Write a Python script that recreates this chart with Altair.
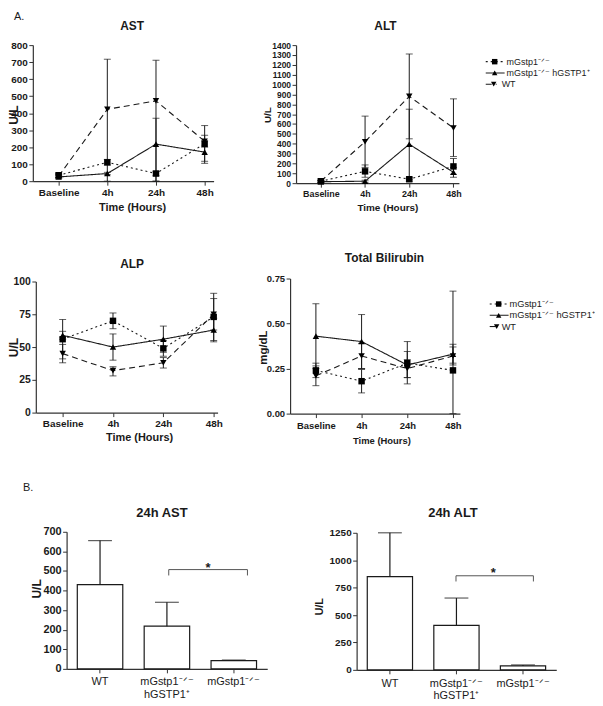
import json
import altair as alt
import pandas as pd

FONT = "Liberation Sans"
INK = "#1a1a1a"
W, H = 587, 688

times = ["Baseline", "4h", "24h", "48h"]
groups = ["ko", "tg", "wt"]
group_names = ["mGstp1⁻ᐟ⁻", "mGstp1⁻ᐟ⁻ hGSTP1⁺", "WT"]

# ---- AST (U/L) ----
ast_ko_mean = [35, 111, 45, 220]
ast_ko_lo = [22, 95, 32, 117]
ast_ko_hi = [48, 128, 58, 327]
ast_tg_mean = [25, 45, 218, 171]
ast_tg_lo = [15, 38, 0, 105]
ast_tg_hi = [35, 52, 370, 237]
ast_wt_mean = [30, 423, 472, 235]
ast_wt_lo = [20, 0, 0, 200]
ast_wt_hi = [40, 717, 711, 270]

# ---- ALT (U/L) ----
alt_ko_mean = [20, 120, 40, 170]
alt_ko_lo = [10, 60, 20, 90]
alt_ko_hi = [30, 185, 60, 250]
alt_tg_mean = [15, 20, 395, 110]
alt_tg_lo = [5, 10, 40, 60]
alt_tg_hi = [25, 30, 750, 160]
alt_wt_mean = [20, 420, 880, 560]
alt_wt_lo = [10, 160, 450, 270]
alt_wt_hi = [30, 680, 1310, 855]

# ---- ALP (U/L) ----
alp_ko_mean = [56, 70, 49, 73]
alp_ko_lo = [41, 64, 43, 55]
alp_ko_hi = [71, 76, 55, 91]
alp_tg_mean = [59, 50, 56, 63]
alp_tg_lo = [56, 40, 46, 54]
alp_tg_hi = [62, 60, 66, 72]
alp_wt_mean = [45, 32, 38, 75]
alp_wt_lo = [38, 28, 34, 63]
alp_wt_hi = [52, 35, 42, 87]

# ---- Total Bilirubin (mg/dL) ----
bil_ko_mean = [0.24, 0.18, 0.28, 0.24]
bil_ko_lo = [0.20, 0.115, 0.165, 0.0]
bil_ko_hi = [0.28, 0.245, 0.40, 0.68]
bil_tg_mean = [0.43, 0.40, 0.27, 0.33]
bil_tg_lo = [0.25, 0.25, 0.20, 0.28]
bil_tg_hi = [0.61, 0.55, 0.345, 0.385]
bil_wt_mean = [0.21, 0.32, 0.25, 0.32]
bil_wt_lo = [0.155, 0.25, 0.20, 0.27]
bil_wt_hi = [0.265, 0.39, 0.30, 0.37]

# ---- 24h bar charts ----
bar_keys = ["WT", "TG", "KO"]
bar_labels = ["WT", ["mGstp1⁻ᐟ⁻", "hGSTP1⁺"], "mGstp1⁻ᐟ⁻"]
ast24_mean = [430, 218, 42]
ast24_hi = [655, 340, 45]
alt24_mean = [851, 405, 36]
alt24_hi = [1250, 655, 45]
ast24_bracket = [507, 477]
alt24_bracket = [858, 806]

dash_scale = alt.Scale(domain=groups, range=[[2, 3], [1, 0], [6, 4]])
shape_scale = alt.Scale(domain=groups, range=["square", "triangle-up", "triangle-down"])


def long_df(series):
    rows = []
    for g, (m, lo, hi) in zip(groups, series):
        for i in range(len(times)):
            rows.append({"t": i, "group": g, "mean": m[i], "lo": lo[i], "hi": hi[i]})
    return pd.DataFrame(rows)


def text_mark(s, x, y, size, weight="bold", align="center"):
    return alt.Chart(pd.DataFrame({"s": [s]})).mark_text(
        font=FONT, fontSize=size, fontWeight=weight, align=align, baseline="middle",
        color=INK).encode(x=alt.value(x), y=alt.value(y), text="s:N")


def line_panel(df, xr, yr, xdom, ydom, yvals, yfmt, ylabel, *, ylab_fs, xlab_fs,
               ytitle_fs, xtitle_fs, ytx, yty, xtx, xty, xlab_pad=2):
    xs = alt.Scale(domain=xdom, range=xr, nice=False, zero=False)
    ys = alt.Scale(domain=ydom, range=yr, nice=False, zero=False)
    xaxis = alt.Axis(orient="bottom", offset=yr[0] - H, values=[0, 1, 2, 3],
                     labelExpr=json.dumps(times) + "[datum.value]",
                     title="Time (Hours)", labelFontSize=xlab_fs, labelFontWeight="bold",
                     labelPadding=xlab_pad, tickSize=4, labelFlush=False, labelOverlap=False,
                     titleFontSize=xtitle_fs, titleFontWeight="bold", titleX=xtx, titleY=xty,
                     titleBaseline="middle", titleAlign="center")
    yaxis = alt.Axis(orient="left", offset=-xr[0], values=yvals, format=yfmt, title=ylabel,
                     labelFontSize=ylab_fs, labelFontWeight="bold", tickSize=4,
                     labelPadding=1.5, labelFlush=False, labelOverlap=False,
                     titleFontSize=ytitle_fs, titleFontWeight="bold", titleX=ytx, titleY=yty,
                     titleAngle=270, titleAlign="center", titleBaseline="middle")
    base = alt.Chart(df)
    X = alt.X("t:Q", scale=xs, axis=xaxis)

    def Y(field):
        return alt.Y(field, type="quantitative", scale=ys, axis=yaxis)

    line = base.mark_line(color=INK, strokeWidth=1.1).encode(
        x=X, y=Y("mean"),
        strokeDash=alt.StrokeDash("group:N", scale=dash_scale, legend=None))
    err = base.mark_rule(color=INK, strokeWidth=1).encode(x=X, y=Y("lo"), y2="hi:Q")
    cap_lo = base.mark_tick(orient="horizontal", size=7, thickness=1, color=INK).encode(
        x=X, y=Y("lo"))
    cap_hi = base.mark_tick(orient="horizontal", size=7, thickness=1, color=INK).encode(
        x=X, y=Y("hi"))
    pts = base.mark_point(filled=True, size=42, opacity=1, color="black").encode(
        x=X, y=Y("mean"), shape=alt.Shape("group:N", scale=shape_scale, legend=None))
    return alt.layer(line, err, cap_lo, cap_hi, pts)


def legend_panel(left, ys, x0, x1, mx, tx, fs):
    df = pd.DataFrame({"group": groups, "name": group_names,
                       "x0": x0, "x1": x1, "mx": mx, "tx": tx})
    xs = alt.Scale(domain=[0, 100], range=[left, left + 100], nice=False, zero=False)
    yscale = alt.Scale(domain=groups, range=ys, padding=0)
    Yg = alt.Y("group:N", scale=yscale, axis=None)
    base = alt.Chart(df)
    rule = base.mark_rule(color=INK, strokeWidth=1.1).encode(
        x=alt.X("x0:Q", scale=xs, axis=None), x2="x1:Q", y=Yg,
        strokeDash=alt.StrokeDash("group:N", scale=dash_scale, legend=None))
    pts = base.mark_point(filled=True, size=30, opacity=1, color="black").encode(
        x=alt.X("mx:Q", scale=xs, axis=None), y=Yg,
        shape=alt.Shape("group:N", scale=shape_scale, legend=None))
    txt = base.mark_text(align="left", baseline="middle", font=FONT, fontSize=fs, color=INK).encode(
        x=alt.X("tx:Q", scale=xs, axis=None), y=Yg, text="name:N")
    return alt.layer(rule, pts, txt)


def bar_panel(means, his, bracket, xr, yr, ydom, yvals, *, ylab_fs, ytitle_fs, ytx, yty,
              bp_left, bp_right, star_dx, star_dy, lab_pad, lab_lh):
    df = pd.DataFrame({"grp": bar_keys, "mean": means, "hi": his})
    lab_map = json.dumps(dict(zip(bar_keys, bar_labels)), ensure_ascii=False)
    xs = alt.Scale(domain=bar_keys, range=xr, paddingInner=0.32, paddingOuter=0.16)
    ys = alt.Scale(domain=ydom, range=yr, nice=False, zero=True)
    xaxis = alt.Axis(orient="bottom", offset=yr[0] - H, title=None, labelAngle=0,
                     labelExpr=lab_map + "[datum.value]", labelFontSize=11,
                     labelFontWeight="normal", labelBaseline="middle", labelPadding=lab_pad,
                     labelLineHeight=lab_lh, tickSize=4)
    yaxis = alt.Axis(orient="left", offset=-xr[0], values=yvals, format="d", title="U/L",
                     labelFontSize=ylab_fs, labelFontWeight="bold", tickSize=4,
                     labelPadding=1.5, labelFlush=False, labelOverlap=False,
                     titleFontSize=ytitle_fs, titleFontWeight="bold", titleX=ytx, titleY=yty,
                     titleAngle=270, titleAlign="center", titleBaseline="middle")

    def Y(field):
        return alt.Y(field, type="quantitative", scale=ys, axis=yaxis)

    base = alt.Chart(df)
    X = alt.X("grp:N", scale=xs, axis=xaxis)
    bars = base.mark_bar(fill="white", stroke=INK, strokeWidth=1.2).encode(x=X, y=Y("mean"))
    err = base.mark_rule(color=INK, strokeWidth=1.2).encode(x=X, y=Y("mean"), y2="hi:Q")
    cap = base.mark_tick(orient="horizontal", size=24, thickness=1.2, color=INK).encode(
        x=X, y=Y("hi"))
    bdf = pd.DataFrame({"a": ["TG"], "b": ["KO"], "top": [bracket[0]], "bot": [bracket[1]], "s": ["*"]})
    bb = alt.Chart(bdf)
    hz = bb.mark_rule(color="#555", strokeWidth=1).encode(
        x=alt.X("a:N", scale=xs, axis=xaxis, bandPosition=bp_left),
        x2=alt.X2("b:N", bandPosition=bp_right), y=Y("top"))
    hl = bb.mark_rule(color="#555", strokeWidth=1).encode(
        x=alt.X("a:N", scale=xs, axis=xaxis, bandPosition=bp_left), y=Y("top"), y2="bot:Q")
    hr = bb.mark_rule(color="#555", strokeWidth=1).encode(
        x=alt.X("b:N", scale=xs, axis=xaxis, bandPosition=bp_right), y=Y("top"), y2="bot:Q")
    star = bb.mark_text(font=FONT, fontSize=13, fontWeight="bold", baseline="alphabetic",
                        dx=star_dx, dy=star_dy, color=INK).encode(
        x=alt.X("b:N", scale=xs, axis=xaxis), y=Y("top"), text="s:N")
    return alt.layer(bars, err, cap, hz, hl, hr, star)


ast = line_panel(long_df([(ast_ko_mean, ast_ko_lo, ast_ko_hi), (ast_tg_mean, ast_tg_lo, ast_tg_hi),
                          (ast_wt_mean, ast_wt_lo, ast_wt_hi)]),
                 [25, 207], [172, 35], [-0.531, 3.184], [0, 800], list(range(0, 801, 100)), "d",
                 "U/L", ylab_fs=10, xlab_fs=10, ytitle_fs=12, xtitle_fs=11,
                 ytx=-19, yty=105, xtx=125, xty=27)

alt_c = line_panel(long_df([(alt_ko_mean, alt_ko_lo, alt_ko_hi), (alt_tg_mean, alt_tg_lo, alt_tg_hi),
                            (alt_wt_mean, alt_wt_lo, alt_wt_hi)]),
                   [290, 454], [174, 35], [-0.562, 3.124], [0, 1400], list(range(0, 1401, 100)),
                   "d", "U/L", ylab_fs=8.5, xlab_fs=9, ytitle_fs=10, xtitle_fs=10,
                   ytx=-29, yty=105, xtx=382, xty=25)

alp = line_panel(long_df([(alp_ko_mean, alp_ko_lo, alp_ko_hi), (alp_tg_mean, alp_tg_lo, alp_tg_hi),
                          (alp_wt_mean, alp_wt_lo, alp_wt_hi)]),
                 [28, 211], [405, 273], [-0.533, 3.077], [0, 100], [0, 25, 50, 75, 100], "d",
                 "U/L", ylab_fs=10.5, xlab_fs=10, ytitle_fs=12, xtitle_fs=11,
                 ytx=-22, yty=339, xtx=132, xty=25)

bil = line_panel(long_df([(bil_ko_mean, bil_ko_lo, bil_ko_hi), (bil_tg_mean, bil_tg_lo, bil_tg_hi),
                          (bil_wt_mean, bil_wt_lo, bil_wt_hi)]),
                 [284, 455], [406, 270], [-0.565, 3.152], [0, 0.75], [0, 0.25, 0.5, 0.75], ".2f",
                 "mg/dL", ylab_fs=9.5, xlab_fs=9.5, ytitle_fs=11.5, xtitle_fs=9.5,
                 ytx=-27, yty=339, xtx=376, xty=27.5, xlab_pad=3)

leg1 = legend_panel(474, [46, 80], [7, 7, 7], [26, 26, 18], [16, 16, 15], [28, 28, 23], 9)
leg2 = legend_panel(474, [290, 324], [11, 11, 11], [30, 30, 21], [20, 20, 18], [31, 31, 23], 9.3)

ast24 = bar_panel(ast24_mean, ast24_hi, ast24_bracket, [59, 261], [663, 525], [0, 700],
                  list(range(0, 701, 100)), ylab_fs=11, ytitle_fs=12, ytx=-30, yty=582,
                  bp_left=0.54, bp_right=0.8, star_dx=-26, star_dy=2, lab_pad=9, lab_lh=12.5)

alt24 = bar_panel(alt24_mean, alt24_hi, alt24_bracket, [351, 552], [664, 526], [0, 1250],
                  [0, 250, 500, 750, 1000, 1250], ylab_fs=10, ytitle_fs=11, ytx=-37, yty=600,
                  bp_left=0.49, bp_right=0.73, star_dx=-30, star_dy=1, lab_pad=9.5, lab_lh=12.5)

labels = [
    text_mark("A.", 6, 6.5, 11, weight="normal", align="left"),
    text_mark("B.", 15, 481, 11, weight="normal", align="left"),
    text_mark("AST", 125, 16, 12),
    text_mark("ALT", 380, 16, 12),
    text_mark("ALP", 125, 255, 12),
    text_mark("Total Bilirubin", 379, 249, 12),
    text_mark("24h AST", 155, 506, 13),
    text_mark("24h ALT", 448, 506, 13),
]

chart = alt.layer(ast, alt_c, leg1, alp, bil, leg2, ast24, alt24, *labels).resolve_scale(
    x="independent", y="independent"
).properties(width=W, height=H, padding=0).configure_view(stroke=None).configure_axis(
    grid=False, domainColor="#333", tickColor="#333", labelColor=INK, titleColor=INK,
    labelFont=FONT, titleFont=FONT, domainWidth=1.2,
)

chart.save("out.html", embed_options={"renderer": "svg", "actions": False})
